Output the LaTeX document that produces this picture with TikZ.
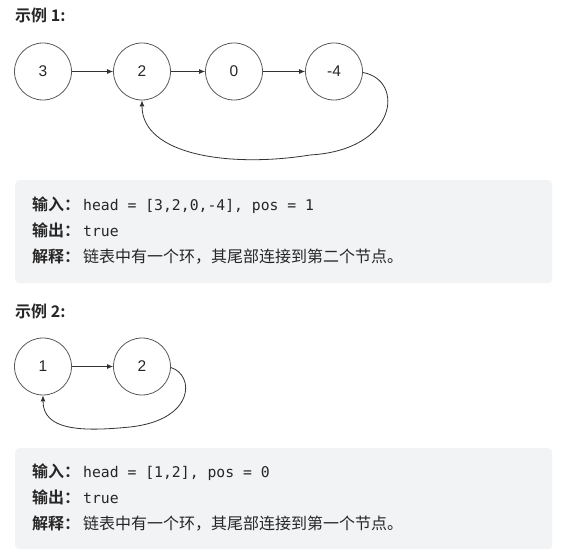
\documentclass[tikz,border=0pt]{standalone}
\usepackage{fontspec}
\setmainfont{Liberation Sans}
\setmonofont{DejaVu Sans Mono}
\newfontfamily\cjk{Noto Sans CJK SC}
\newfontfamily\cjkb{Noto Sans CJK SC Bold}
\usetikzlibrary{arrows.meta}
\definecolor{boxbg}{HTML}{F2F3F5}
\definecolor{ink}{HTML}{262626}
\definecolor{edgec}{HTML}{595959}
\definecolor{linec}{HTML}{333333}
\tikzset{
  listnode/.style={circle, draw=edgec, line width=0.8pt, minimum size=57pt, inner sep=0pt,
    font=\fontsize{15.5}{16}\selectfont, text=ink},
  nextarrow/.style={draw=linec, line width=0.8pt, -{Latex[length=6pt,width=5pt]}},
  infobox/.style={fill=boxbg, rounded corners=4pt, draw=none},
  titletext/.style={anchor=base west, inner sep=0pt, text=ink, font=\cjkb\fontsize{16}{16}\selectfont},
  infoline/.style={anchor=base west, inner sep=0pt, text=ink},
}
\newcommand{\lbl}[1]{{\cjkb\fontsize{16}{16}\selectfont #1}\hspace{3pt}}
\newcommand{\mycode}[1]{{\ttfamily\fontsize{14.75}{16}\selectfont #1}}
\newcommand{\zh}[1]{{\cjk\fontsize{16}{16}\selectfont #1}}
\begin{document}
\begin{tikzpicture}[x=1pt, y=-1pt]
\useasboundingbox (0,0) rectangle (566,559);
% ---------- Example 1 ----------
\node[titletext] (t1) at (15,22) {示例 1:};
\node[listnode] (a1) at (43,71.5) {3};
\node[listnode] (b1) at (142,71.5) {2};
\node[listnode] (c1) at (234,71.5) {0};
\node[listnode] (d1) at (334,71.5) {-4};
\draw[nextarrow] (a1) -- (b1);
\draw[nextarrow] (b1) -- (c1);
\draw[nextarrow] (c1) -- (d1);
\coordinate (m1) at (310,155);
\draw[nextarrow] (d1.-2) .. controls (405,80) and (398,150) .. (m1)
   .. controls (230,168) and (142,155) .. (b1.south);
\node[infobox, minimum width=537pt, minimum height=103pt, anchor=north west, inner sep=0pt] (box1) at (15,180) {};
\node[infoline] (l11) at (32,211) {\lbl{输入：}\mycode{head = [3,2,0,-4], pos = 1}};
\node[infoline] (l12) at (32,237) {\lbl{输出：}\mycode{true}};
\node[infoline] (l13) at (32,263) {\lbl{解释：}\zh{链表中有一个环，其尾部连接到第二个节点。}};
% ---------- Example 2 ----------
\node[titletext] (t2) at (15,318) {示例 2:};
\node[listnode] (a2) at (43,366.5) {1};
\node[listnode] (b2) at (142,366.5) {2};
\draw[nextarrow] (a2) -- (b2);
\coordinate (m2) at (130,427);
\draw[nextarrow] (b2.-2) .. controls (195,375) and (195,420) .. (m2)
   .. controls (80,432) and (43,430) .. (a2.south);
\node[infobox, minimum width=537pt, minimum height=101pt, anchor=north west, inner sep=0pt] (box2) at (15,448) {};
\node[infoline] (l21) at (32,477) {\lbl{输入：}\mycode{head = [1,2], pos = 0}};
\node[infoline] (l22) at (32,503) {\lbl{输出：}\mycode{true}};
\node[infoline] (l23) at (32,529) {\lbl{解释：}\zh{链表中有一个环，其尾部连接到第一个节点。}};
\end{tikzpicture}
\end{document}
